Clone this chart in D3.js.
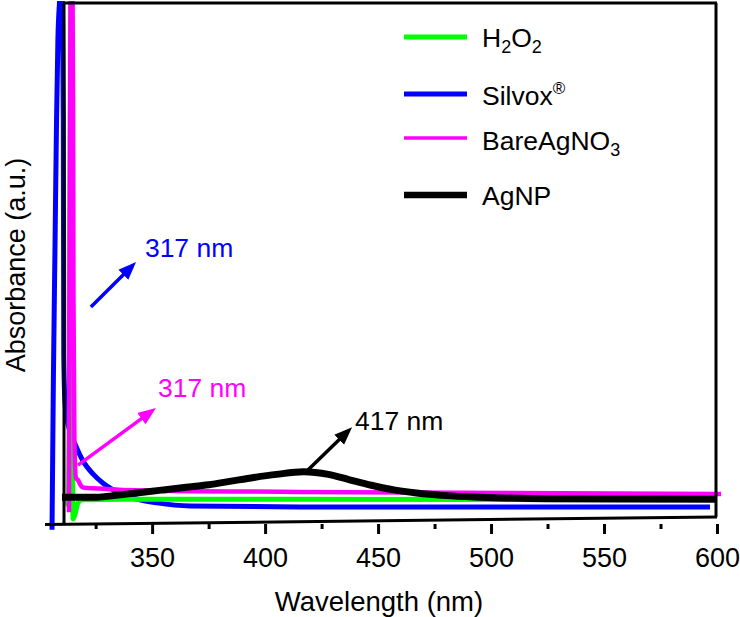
<!DOCTYPE html>
<html>
<head>
<meta charset="utf-8">
<script src="https://cdn.jsdelivr.net/npm/d3@7"></script>
<style>
    body { margin: 0; background: #fff; }
    text { font-family: "Liberation Sans", Arial, Helvetica, sans-serif; fill: #000; }
</style>
</head>
<body>
<svg id="chart" width="740" height="617"></svg>
<script>
// values: wavelength (nm) and absorbance (a.u.)
var h2o2Wl = [311.9, 312.8, 313.4, 313.8, 314.1, 314.4, 314.7, 315.0, 315.9, 317.2, 319.0, 335.8, 415.4, 578.3];
var h2o2Abs = [0.048, 0.031, 0.234, 0.813, 1.015, 0.813, 0.234, 0.004, 0.014, 0.035, 0.041, 0.042, 0.042, 0.041];

var silvoxWl = [305.7, 306.3, 307.0, 307.7, 308.3, 309.0, 309.7, 310.3, 310.7, 310.9, 311.4, 312.3, 313.7, 315.9, 319.4, 323.8, 328.3, 337.1, 344.6, 352.2, 366.8, 415.4, 596.9];
var silvoxAbs = [-0.017, 0.272, 0.523, 0.774, 0.929, 1.0, 1.03, 1.0, 0.774, 0.32, 0.232, 0.197, 0.172, 0.148, 0.116, 0.091, 0.073, 0.051, 0.041, 0.035, 0.029, 0.027, 0.027];

var bareWl = [313.2, 313.4, 313.7, 313.9, 314.3, 314.8, 315.0, 315.2, 315.6, 316.3, 317.2, 318.1, 319.0, 320.3, 330.0, 337.1, 415.4, 601.8];
var bareAbs = [0.017, 0.427, 0.813, 1.002, 1.015, 1.002, 0.813, 0.427, 0.156, 0.083, 0.079, 0.071, 0.066, 0.064, 0.062, 0.060, 0.056, 0.052];

var agnpWl = [310.1, 325, 335, 345, 355, 365, 375, 385, 395, 405, 417, 428, 437, 447, 457, 467, 480, 495, 525, 600];
var agnpAbs = [0.046, 0.046, 0.050, 0.055, 0.060, 0.065, 0.070, 0.077, 0.084, 0.090, 0.095, 0.090, 0.080, 0.069, 0.060, 0.054, 0.049, 0.046, 0.043, 0.042];

var majorTicks = [350, 400, 450, 500, 550, 600];
var minorTicks = [325, 375, 425, 475, 525, 575];

// peak annotations: arrow tail, arrow tip, label anchor (data units)
var peakLabels = ["317 nm", "317 nm", "417 nm"];
var peakColors = ["#0000ff", "#ff00ff", "#000000"];
var arrowFrom = [[322.9, 0.413], [317.2, 0.108], [418.5, 0.0965]];
var arrowTo = [[342.9, 0.500], [351.7, 0.218], [438.5, 0.181]];
var labelAt = [[346.8, 0.510], [352.6, 0.239], [439.8, 0.176]];

var series = [
    {name: "silvox", wl: silvoxWl, abs: silvoxAbs, color: "#0000ff", w: 5},
    {name: "h2o2", wl: h2o2Wl, abs: h2o2Abs, color: "#00ff00", w: 5},
    {name: "bare", wl: bareWl, abs: bareAbs, color: "#ff00ff", w: 4.5},
    {name: "agnp", wl: agnpWl, abs: agnpAbs, color: "#000000", w: 7}
];

var svg = d3.select("#chart");

var x = d3.scaleLinear().domain([311, 600]).range([64, 717]);
var y = d3.scaleLinear().domain([0, 1]).range([521, 3]);

svg.append("defs").append("clipPath")
    .attr("id", "clip")
    .append("rect")
    .attr("x", 0).attr("y", 1).attr("width", 740).attr("height", 616);

var line = d3.line()
    .x(function (d) { return x(d[0]); })
    .y(function (d) { return y(d[1]); })
    .curve(d3.curveMonotoneX);

// Draw curves
svg.append("g")
    .attr("clip-path", "url(#clip)")
    .selectAll("path")
    .data(series)
    .enter().append("path")
    .attr("d", function (s) {
        return line(s.wl.map(function (w, i) { return [w, s.abs[i]]; }));
    })
    .attr("fill", "none")
    .attr("stroke", function (s) { return s.color; })
    .attr("stroke-width", function (s) { return s.w; })
    .attr("stroke-linejoin", "round");

// Frame
var frame = svg.append("g").attr("stroke", "#000").attr("stroke-width", 3).attr("fill", "none");
frame.append("line").attr("x1", 63).attr("y1", 3).attr("x2", 717).attr("y2", 3);
frame.append("line").attr("x1", 64).attr("y1", 3).attr("x2", 64).attr("y2", 524);
frame.append("line").attr("x1", 716).attr("y1", 3).attr("x2", 716).attr("y2", 517);
frame.append("line").attr("x1", 45).attr("y1", 524.5).attr("x2", 717).attr("y2", 517);

// X axis (ticks + labels)
var xAxis = svg.append("g")
    .attr("transform", "translate(0,524)")
    .call(d3.axisBottom(x).tickValues(majorTicks).tickSize(10).tickPadding(14).tickFormat(d3.format("d")));
xAxis.select(".domain").remove();
xAxis.selectAll(".tick line").attr("stroke-width", 3);
xAxis.selectAll(".tick text").attr("font-size", 27).attr("font-family", null);

var xMinor = svg.append("g")
    .attr("transform", "translate(0,524)")
    .call(d3.axisBottom(x).tickValues(minorTicks).tickSize(5).tickFormat(""));
xMinor.select(".domain").remove();
xMinor.selectAll(".tick line").attr("stroke-width", 3);

svg.append("text")
    .attr("x", 379).attr("y", 611)
    .attr("text-anchor", "middle")
    .attr("font-size", 27.5)
    .text("Wavelength (nm)");

svg.append("text")
    .attr("transform", "translate(25,265) rotate(-90)")
    .attr("text-anchor", "middle")
    .attr("font-size", 27)
    .text("Absorbance (a.u.)");

// Peak arrows
var defs = svg.select("defs");
peakColors.forEach(function (c, i) {
    defs.append("marker")
        .attr("id", "head" + i)
        .attr("markerUnits", "userSpaceOnUse")
        .attr("markerWidth", 20).attr("markerHeight", 16)
        .attr("viewBox", "0 -8 20 16")
        .attr("refX", 6).attr("refY", 0)
        .attr("orient", "auto")
        .append("path")
        .attr("d", "M0,-7L18,0L0,7Z")
        .attr("fill", c);
});

var notes = svg.append("g");
peakLabels.forEach(function (lab, i) {
    var x0 = x(arrowFrom[i][0]), y0 = y(arrowFrom[i][1]);
    var x1 = x(arrowTo[i][0]), y1 = y(arrowTo[i][1]);
    var len = Math.sqrt((x1 - x0) * (x1 - x0) + (y1 - y0) * (y1 - y0));
    var ex = x1 - 12 * (x1 - x0) / len, ey = y1 - 12 * (y1 - y0) / len;
    notes.append("line")
        .attr("x1", x0).attr("y1", y0).attr("x2", ex).attr("y2", ey)
        .attr("stroke", peakColors[i])
        .attr("stroke-width", 3.5)
        .attr("marker-end", "url(#head" + i + ")");
    notes.append("text")
        .attr("x", x(labelAt[i][0])).attr("y", y(labelAt[i][1]))
        .attr("font-size", 26.5)
        .style("fill", peakColors[i])
        .text(lab);
});

// Legend
var legend = svg.append("g");
var legendY = [37, 94, 138, 195];
var legendSeries = [series[1], series[0], series[2], series[3]];
var legendW = [5, 5, 3.5, 6.5];
legendSeries.forEach(function (s, i) {
    legend.append("line")
        .attr("x1", 404).attr("x2", 467)
        .attr("y1", legendY[i]).attr("y2", legendY[i])
        .attr("stroke", s.color)
        .attr("stroke-width", legendW[i]);
});

var t1 = legend.append("text").attr("x", 482).attr("y", 47).attr("font-size", 26.5);
t1.append("tspan").text("H");
t1.append("tspan").attr("font-size", 18).attr("dy", 6).text("2");
t1.append("tspan").attr("dy", -6).text("O");
t1.append("tspan").attr("font-size", 18).attr("dy", 6).text("2");

var t2 = legend.append("text").attr("x", 482).attr("y", 105).attr("font-size", 26.5);
t2.append("tspan").text("Silvox");
t2.append("tspan").attr("font-size", 17).attr("dy", -11).text("®");

var t3 = legend.append("text").attr("x", 482).attr("y", 150).attr("font-size", 26.5);
t3.append("tspan").text("BareAgNO");
t3.append("tspan").attr("font-size", 18).attr("dy", 6).text("3");

legend.append("text").attr("x", 482).attr("y", 205).attr("font-size", 26.5).text("AgNP");
</script>
</body>
</html>
